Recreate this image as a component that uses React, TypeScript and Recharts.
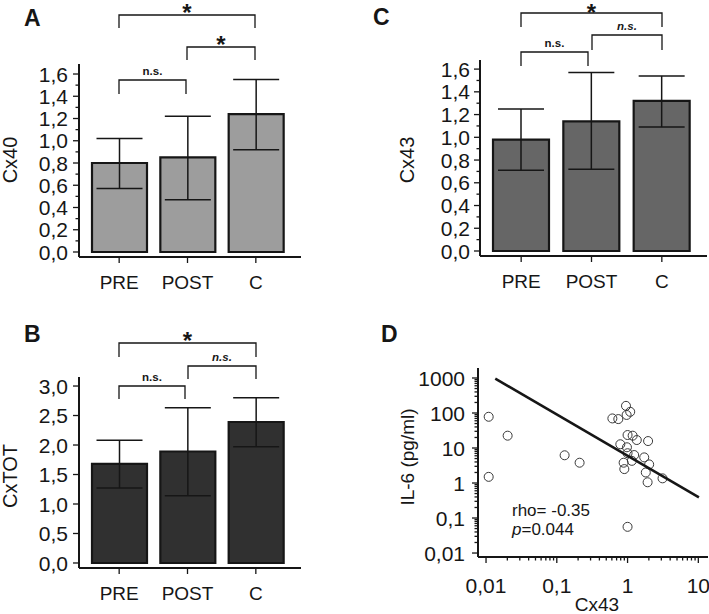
import React from 'react';
import {
  BarChart, Bar, XAxis, YAxis, ErrorBar,
  ScatterChart, Scatter,
} from 'recharts';

// groups on the x axis of the three bar panels
const categories = ['PRE', 'POST', 'C'];

// A - Cx40
const cx40Mean = [0.80, 0.85, 1.24];
const cx40Low = [0.57, 0.47, 0.92];
const cx40High = [1.02, 1.22, 1.55];

// C - Cx43
const cx43Mean = [0.98, 1.14, 1.32];
const cx43Low = [0.71, 0.72, 1.09];
const cx43High = [1.25, 1.57, 1.54];

// B - CxTOT
const cxTotMean = [1.68, 1.89, 2.39];
const cxTotLow = [1.27, 1.14, 1.97];
const cxTotHigh = [2.08, 2.63, 2.80];

// y ticks of the bar panels
const smallTicks = [0, 0.1, 0.2, 0.3, 0.4, 0.5, 0.6, 0.7, 0.8, 0.9, 1.0, 1.1, 1.2, 1.3, 1.4, 1.5, 1.6];
const totTicks = [0, 0.5, 1.0, 1.5, 2.0, 2.5, 3.0];

// D - scatter of Cx43 vs IL-6
const dCx43 = [0.0109, 0.0109, 0.0202, 0.129, 0.21, 1.0,
  0.61, 0.74, 0.95, 1.09, 0.97,
  1.0, 1.18, 1.35, 1.95, 0.79, 0.98, 1.0, 1.24, 1.72, 0.88, 1.15, 2.02, 0.9, 1.81, 1.92, 3.12];
const dIl6 = [78, 1.5, 22.5, 6.2, 3.8, 0.056,
  70, 67, 160, 108, 88,
  23.5, 22.5, 16.9, 15.8, 12.8, 10.5, 7.1, 6.3, 5.4, 3.8, 4.3, 3.4, 2.5, 2.0, 1.05, 1.36];
// regression line end points
const fitX = [0.0135, 10.2];
const fitY = [960, 0.39];

const logXMajor = [0.01, 0.1, 1, 10];
const logYMajor = [0.01, 0.1, 1, 10, 100, 1000];

const FONT = '"Liberation Sans", Arial, Helvetica, sans-serif';
const INK = '#161616';

const withMinors = (majors: number[]) => {
  const out: number[] = [];
  majors.forEach((m, i) => {
    out.push(m);
    if (i < majors.length - 1) for (let k = 2; k <= 9; k++) out.push(+(m * k).toPrecision(3));
  });
  return out;
};

const comma = (v: number, digits: number) => v.toFixed(digits).replace('.', ',');

const makeYTick = (isMajor: (v: number) => boolean, fmt: (v: number) => string, gap: number, fontSize: number) =>
  (props: any) => {
    const { x, y, payload } = props;
    const v = payload.value;
    const major = isMajor(v);
    return (
      <g>
        <line x1={x - (major ? 6 : 3.5)} x2={x} y1={y} y2={y} stroke={INK} strokeWidth={1.3} />
        {major && (
          <text x={x - gap} y={y} dy="0.36em" textAnchor="end" fontSize={fontSize} fontFamily={FONT} fill={INK}>
            {fmt(v)}
          </text>
        )}
      </g>
    );
  };

const makeXTick = (isMajor: (v: any) => boolean, fmt: (v: any) => string, offset: number, fontSize: number) =>
  (props: any) => {
    const { x, y, payload } = props;
    const major = isMajor(payload.value);
    return (
      <g>
        <line x1={x} x2={x} y1={y} y2={y + (major ? 6 : 3.5)} stroke={INK} strokeWidth={1.3} />
        {major && (
          <text x={x} y={y + offset} dy="0.36em" textAnchor="middle" fontSize={fontSize} fontFamily={FONT} fill={INK}>
            {fmt(payload.value)}
          </text>
        )}
      </g>
    );
  };

const catTick = makeXTick(() => true, (v) => v, 25, 19);
const isEven10 = (v: number) => Math.round(v * 10) % 2 === 0;

type BarPanelProps = {
  mean: number[]; low: number[]; high: number[];
  fill: string; width: number; height: number;
  top: number; yAxisW: number; right: number; xAxisH: number;
  domain: [number, number]; ticks: number[];
  yTick: any; padL: number; padR: number; barSize: number;
};

function BarPanel(p: BarPanelProps) {
  const data = categories.map((c, i) => ({
    name: c,
    value: p.mean[i],
    err: [p.mean[i] - p.low[i], p.high[i] - p.mean[i]],
  }));
  return (
    <BarChart width={p.width} height={p.height} data={data}
      margin={{ top: p.top, right: p.right, left: 0, bottom: 0 }}>
      <XAxis dataKey="name" height={p.xAxisH} tickLine={false} tickSize={0} tickMargin={0}
        axisLine={{ stroke: INK, strokeWidth: 2 }} tick={catTick} interval={0}
        padding={{ left: p.padL, right: p.padR }} />
      <YAxis type="number" width={p.yAxisW} domain={p.domain} allowDataOverflow ticks={p.ticks}
        interval={0} tickLine={false} tickSize={0} tickMargin={0}
        axisLine={{ stroke: INK, strokeWidth: 2 }} tick={p.yTick} />
      <Bar dataKey="value" fill={p.fill} stroke={INK} strokeWidth={2.2} barSize={p.barSize} isAnimationActive={false}>
        <ErrorBar dataKey="err" width={23} stroke={INK} strokeWidth={1.5} direction="y" />
      </Bar>
    </BarChart>
  );
}

function Bracket({ x1, x2, y, l1, l2, text, italic, star, starDy = 5.5 }: any) {
  const cx = (x1 + x2) / 2;
  return (
    <g>
      <path d={`M${x1},${l1} L${x1},${y} L${x2},${y} L${x2},${l2}`} fill="none" stroke={INK} strokeWidth={1.3} />
      {star ? (
        <text x={cx} y={y + starDy} textAnchor="middle" fontSize={24} fontWeight="bold" fontFamily={FONT} fill={INK}>*</text>
      ) : (
        <text x={cx} y={y - 5} textAnchor="middle" fontSize={11.5} fontWeight="bold"
          fontStyle={italic ? 'italic' : 'normal'} fontFamily={FONT} fill={INK}>{text}</text>
      )}
    </g>
  );
}

export default function App() {
  const scatterData = dCx43.map((x, i) => ({ x, y: dIl6[i] }));
  const fitData = fitX.map((x, i) => ({ x, y: fitY[i] }));
  const xLogTicks = withMinors(logXMajor);
  const yLogTicks = withMinors(logYMajor);
  const isDecade = (v: number) => Math.abs(Math.log10(v) - Math.round(Math.log10(v))) < 1e-6;
  const logFmt = (v: number) => (v >= 1 ? String(v) : String(v).replace('.', ','));

  const tickA = makeYTick(isEven10, (v) => comma(v, 1), 11, 21);
  const tickC = makeYTick(isEven10, (v) => comma(v, 1), 10, 21);
  const tickB = makeYTick(() => true, (v) => comma(v, 1), 11, 21);
  const tickDY = makeYTick(isDecade, logFmt, 13, 21);
  const tickDX = makeXTick(isDecade, logFmt, 28, 21);

  const circle = (props: any) => (
    <circle cx={props.cx} cy={props.cy} r={4.5} fill="none" stroke="#3a3a3a" strokeWidth={1} />
  );

  return (
    <div style={{ position: 'absolute', left: 0, top: 0, width: 709, height: 614, background: '#fff', fontFamily: FONT }}>
      <div style={{ position: 'absolute', left: 0, top: 0 }}>
        <BarPanel mean={cx40Mean} low={cx40Low} high={cx40High} fill="#9d9d9d"
          width={330} height={300} top={64} yAxisW={79} right={29} xAxisH={43}
          domain={[-0.045, 1.69]} ticks={smallTicks} yTick={tickA} padL={6} padR={11} barSize={55} />
      </div>
      <div style={{ position: 'absolute', left: 360, top: 0 }}>
        <BarPanel mean={cx43Mean} low={cx43Low} high={cx43High} fill="#666666"
          width={349} height={300} top={60} yAxisW={120} right={2} xAxisH={44}
          domain={[-0.044, 1.68]} ticks={smallTicks} yTick={tickC} padL={6} padR={10} barSize={56} />
      </div>
      <div style={{ position: 'absolute', left: 0, top: 300 }}>
        <BarPanel mean={cxTotMean} low={cxTotLow} high={cxTotHigh} fill="#303030"
          width={330} height={314} top={77} yAxisW={79} right={29} xAxisH={46}
          domain={[-0.085, 3.153]} ticks={totTicks} yTick={tickB} padL={6} padR={11} barSize={55} />
      </div>
      <div style={{ position: 'absolute', left: 380, top: 300 }}>
        <ScatterChart width={329} height={314} margin={{ top: 68, right: 1, left: 0, bottom: 0 }}>
          <XAxis type="number" dataKey="x" scale="log" domain={[0.0077, 13.7]} allowDataOverflow
            ticks={xLogTicks} interval={0} height={57} tickLine={false} tickSize={0} tickMargin={0}
            axisLine={{ stroke: INK, strokeWidth: 2 }} tick={tickDX} />
          <YAxis type="number" dataKey="y" scale="log" domain={[0.0077, 1930]} allowDataOverflow
            ticks={yLogTicks} interval={0} width={98} tickLine={false} tickSize={0} tickMargin={0}
            axisLine={{ stroke: INK, strokeWidth: 2 }} tick={tickDY} />
          <Scatter data={scatterData} shape={circle} isAnimationActive={false} />
          <Scatter data={fitData} line={{ stroke: INK, strokeWidth: 2.5 }} shape={() => <g />} isAnimationActive={false} />
        </ScatterChart>
      </div>

      <svg width={709} height={614} style={{ position: 'absolute', left: 0, top: 0, pointerEvents: 'none' }}>
        <g fontFamily={FONT} fontWeight="bold" fontSize={23} fill={INK}>
          <text x={24} y={26}>A</text>
          <text x={373} y={25}>C</text>
          <text x={24} y={342}>B</text>
          <text x={381} y={342}>D</text>
        </g>

        {/* A */}
        <Bracket x1={119} x2={255} y={15} l1={28} l2={28} star />
        <Bracket x1={187} x2={255} y={47} l1={60} l2={60} star />
        <Bracket x1={119} x2={186} y={80} l1={94} l2={94} text="n.s." />
        {/* C */}
        <Bracket x1={521} x2={662} y={13} l1={27} l2={27} star starDy={7.5} />
        <Bracket x1={592} x2={662} y={35} l1={50} l2={50} text="n.s." italic />
        <Bracket x1={521} x2={588} y={52} l1={66} l2={66} text="n.s." />
        {/* B */}
        <Bracket x1={119} x2={256} y={343} l1={357} l2={357} star />
        <Bracket x1={188} x2={256} y={366} l1={379} l2={379} text="n.s." italic />
        <Bracket x1={119} x2={185} y={386} l1={399} l2={399} text="n.s." />

        <g fontFamily={FONT} fontSize={20} fill={INK} textAnchor="middle">
          <text transform="translate(17,160) rotate(-90)">Cx40</text>
          <text transform="translate(414,160) rotate(-90)">Cx43</text>
          <text transform="translate(17,476) rotate(-90)">CxTOT</text>
          <text transform="translate(414,457) rotate(-90)" fontSize={19}>IL-6 (pg/ml)</text>
          <text x={597} y={611} fontSize={19}>Cx43</text>
        </g>
        <g fontFamily={FONT} fontSize={17} fill={INK}>
          <text x={512} y={516}>rho= -0.35</text>
          <text x={512} y={535}><tspan fontStyle="italic">p</tspan>=0.044</text>
        </g>
      </svg>
    </div>
  );
}
